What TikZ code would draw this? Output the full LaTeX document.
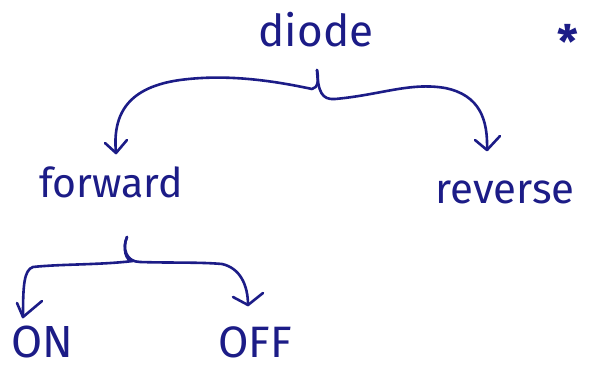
\documentclass[tikz,border=0pt]{standalone}
\usepackage{fontspec}
\setmainfont{Fira Sans}
\usetikzlibrary{arrows.meta}
\definecolor{ink}{RGB}{28,28,135}
\tikzset{
  word/.style={text=ink, inner sep=0pt, anchor=center},
  link/.style={draw=ink, line width=2.6pt, line cap=round, line join=round},
  head/.style={draw=ink, line width=2.6pt, line cap=round, line join=round}
}
\begin{document}
\begin{tikzpicture}[x=1pt,y=-1pt]
\useasboundingbox[fill=white] (0,0) rectangle (591,369);
\node[word,font=\fontsize{44}{44}\selectfont] (diode) at (316,30) {diode};
\node[word,font=\bfseries\fontsize{46}{46}\selectfont] (star) at (568,41) {*};
\node[word,font=\fontsize{41}{41}\selectfont] (forward) at (111,182) {forward};
\node[word,font=\fontsize{42}{42}\selectfont] (reverse) at (505,192) {reverse};
\node[word,font=\fontsize{45}{45}\selectfont] (on) at (42,342) {ON};
\node[word,font=\fontsize{44}{44}\selectfont] (off) at (255,342) {OFF};
\coordinate (c1) at (317,70);
\coordinate (c2) at (127,237);
\coordinate (fwdtip) at (116,153);
\coordinate (revtip) at (487,150);
\coordinate (ontip) at (23,317);
\coordinate (offtip) at (248,305);
% upper brace
\draw[link] (c1) .. controls (319,80) and (318,88) .. (312,89)
  .. controls (270,80) and (225,74) .. (180,80)
  .. controls (130,87) and (112,112) .. (fwdtip);
\draw[link] (c1) .. controls (318,92) and (322,100) .. (335,99)
  .. controls (380,95) and (410,82) .. (445,88)
  .. controls (480,95) and (488,120) .. (revtip);
% lower brace
\draw[link] (c2) .. controls (122,248) and (126,262) .. (133,261)
  .. controls (100,265) and (60,264) .. (33,267)
  .. controls (24,270) and (23,285) .. (ontip);
\draw[link] (c2) .. controls (122,248) and (126,262) .. (140,262)
  .. controls (170,263) and (200,262) .. (222,264)
  .. controls (240,268) and (248,285) .. (offtip);
% arrow heads
\draw[head] (fwdtip) ++(-11,-10) -- (fwdtip) -- ++(11,-13);
\draw[head] (revtip) ++(-12,-10) -- (revtip) -- ++(13,-14);
\draw[head] (ontip) ++(-6,-14) -- (ontip) -- ++(19,-16);
\draw[head] (offtip) ++(-15,-8) -- (offtip) -- ++(15,-12);
\end{tikzpicture}
\end{document}
